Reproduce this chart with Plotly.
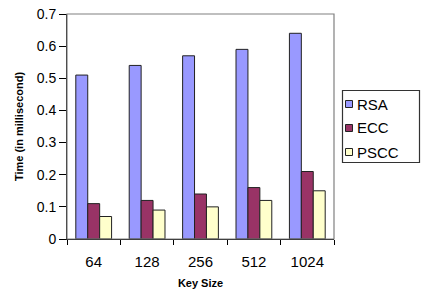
import plotly.graph_objects as go

categories = ["64", "128", "256", "512", "1024"]
series_names = ["RSA", "ECC", "PSCC"]
rsa = [0.51, 0.54, 0.57, 0.59, 0.64]
ecc = [0.11, 0.12, 0.14, 0.16, 0.21]
pscc = [0.07, 0.09, 0.10, 0.12, 0.15]
colors = ["#9999FF", "#993366", "#FFFFCC"]

W, H = 423, 298
L, R, T, B = 67, 89, 14, 59
PW, PH = W - L - R, H - T - B

def px(x):
    return (x - L) / PW

def py(y):
    return (H - B - y) / PH

fig = go.Figure()
for name, vals, col in zip(series_names, [rsa, ecc, pscc], colors):
    fig.add_trace(go.Bar(x=categories, y=vals, name=name, showlegend=False,
                         marker=dict(color=col, line=dict(color="#222222", width=1))))

shapes = [dict(type="rect", xref="paper", yref="paper", x0=0, y0=0, x1=1, y1=1,
               line=dict(color="#808080", width=1.2), fillcolor="rgba(0,0,0,0)",
               layer="above"),
          dict(type="rect", xref="paper", yref="paper",
               x0=px(342.5), x1=px(419.5), y0=py(162.5), y1=py(90.5),
               line=dict(color="#333333", width=1.2), fillcolor="rgba(0,0,0,0)",
               layer="above")]
annotations = []
for i, (name, col) in enumerate(zip(series_names, colors)):
    cy = 104 + 24 * i
    shapes.append(dict(type="rect", xref="paper", yref="paper",
                       x0=px(345.5), x1=px(352.5), y0=py(cy + 3.5), y1=py(cy - 3.5),
                       fillcolor=col, line=dict(color="#222222", width=1)))
    annotations.append(dict(text=name, xref="paper", yref="paper", x=px(355), y=py(cy),
                            xanchor="left", yanchor="middle", showarrow=False,
                            font=dict(size=15, color="#000000")))

fig.update_layout(
    width=W, height=H,
    margin=dict(l=L, r=R, t=T, b=B),
    paper_bgcolor="white", plot_bgcolor="white",
    barmode="group", bargap=0.33, bargroupgap=0,
    font=dict(family="Liberation Sans, Arial, sans-serif", color="#000000"),
    showlegend=False,
    shapes=shapes, annotations=annotations,
)
fig.update_xaxes(
    showline=True, linecolor="#000000", linewidth=1, automargin=False,
    ticks="outside", tickson="boundaries", ticklen=5, tickcolor="#000000",
    tickfont=dict(size=15), showgrid=False, ticklabelstandoff=9,
    title=dict(text="<b>Key Size</b>", font=dict(size=11), standoff=10),
)
fig.update_yaxes(
    range=[0, 0.7], dtick=0.1, showline=True, linecolor="#000000", linewidth=1,
    automargin=False,
    ticks="outside", ticklen=7, tickcolor="#000000", showgrid=False,
    tickfont=dict(size=14), zeroline=False,
    title=dict(text="<b>Time (in millisecond)</b>", font=dict(size=11), standoff=10),
)
fig.write_html("out.html")
